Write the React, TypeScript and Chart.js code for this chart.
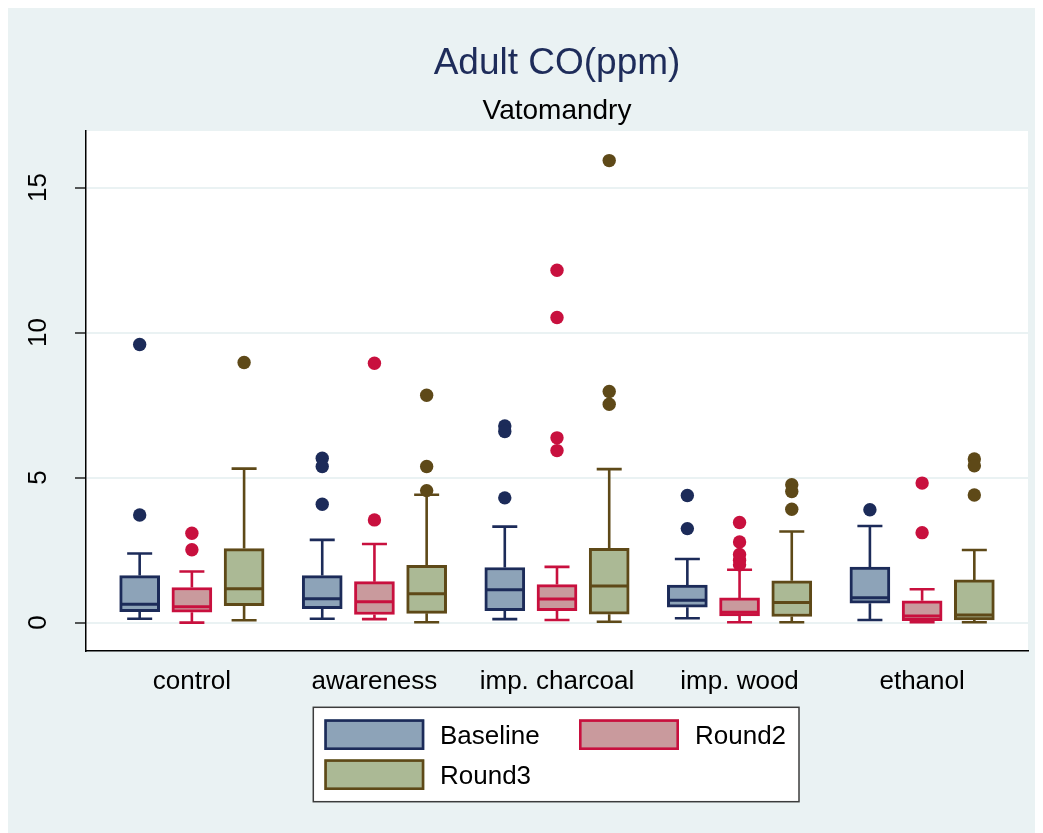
import React, { useEffect, useRef } from 'react';
import { Chart, registerables } from 'chart.js';

Chart.register(...registerables);

// ---------- data ----------
const categories = ['control', 'awareness', 'imp. charcoal', 'imp. wood', 'ethanol'];
const seriesNames = ['Baseline', 'Round2', 'Round3'];
const yTickValues = [0, 5, 10, 15];

const baselineLower = [0.13, 0.13, 0.12, 0.15, 0.09];
const baselineQ1 = [0.38, 0.48, 0.41, 0.53, 0.67];
const baselineMedian = [0.63, 0.82, 1.13, 0.77, 0.86];
const baselineQ3 = [1.62, 1.62, 1.9, 1.29, 1.91];
const baselineUpper = [2.38, 2.85, 3.31, 2.19, 3.33];
const baselineOutliers = [[9.59, 3.71], [5.67, 5.38, 4.08], [6.78, 6.59, 4.3], [4.38, 3.24], [3.89]];

const round2Lower = [0.0, 0.12, 0.09, 0.01, 0.01];
const round2Q1 = [0.36, 0.28, 0.41, 0.23, 0.07];
const round2Median = [0.55, 0.72, 0.81, 0.36, 0.23];
const round2Q3 = [1.21, 1.41, 1.31, 0.85, 0.75];
const round2Upper = [1.76, 2.71, 1.92, 1.82, 1.15];
const round2Outliers = [[3.08, 2.51], [8.94, 3.54], [12.15, 10.52, 6.37, 5.93], [3.45, 2.78, 2.35, 2.15, 1.99], [4.81, 3.1]];

const round3Lower = [0.08, 0.01, 0.03, 0.01, 0.01];
const round3Q1 = [0.58, 0.32, 0.29, 0.21, 0.09];
const round3Median = [1.17, 0.99, 1.26, 0.69, 0.26];
const round3Q3 = [2.55, 1.97, 2.56, 1.44, 1.47];
const round3Upper = [5.31, 4.41, 5.29, 3.14, 2.5];
const round3Outliers = [[8.97], [7.84, 5.38, 4.55], [15.93, 7.97, 7.53], [4.75, 4.52, 3.91], [5.64, 5.41, 4.4]];

// ---------- styles ----------
const FONT = "'Liberation Sans', Arial, Helvetica, sans-serif";
const BG = '#EAF2F3';
const GROUP_OFFSETS = [-0.286, 0, 0.286];
const FILLS = ['#8DA3B8', '#C99A9D', '#ABB995'];
const LINES = ['#1C2B59', '#C8103E', '#5E4918'];

const series = [
  { lower: baselineLower, q1: baselineQ1, median: baselineMedian, q3: baselineQ3, upper: baselineUpper, outliers: baselineOutliers },
  { lower: round2Lower, q1: round2Q1, median: round2Median, q3: round2Q3, upper: round2Upper, outliers: round2Outliers },
  { lower: round3Lower, q1: round3Q1, median: round3Median, q3: round3Q3, upper: round3Upper, outliers: round3Outliers },
];

const BOX_W = 40;
const CAP_W = 25;

const boxPlugin = {
  id: 'boxExtras',
  beforeDraw(chart: any) {
    const { ctx, chartArea: a } = chart;
    ctx.save();
    ctx.fillStyle = BG;
    ctx.fillRect(0, 0, chart.width, chart.height);
    ctx.fillStyle = '#FFFFFF';
    ctx.fillRect(a.left, a.top, a.right - a.left, a.bottom - a.top);
    ctx.restore();
  },
  beforeDatasetsDraw(chart: any) {
    const { ctx } = chart;
    const ys = chart.scales.y;
    ctx.save();
    ctx.lineWidth = 2.6;
    ctx.lineCap = 'butt';
    series.forEach((s, si) => {
      const meta = chart.getDatasetMeta(si);
      ctx.strokeStyle = LINES[si];
      categories.forEach((_, i) => {
        const bar = meta.data[i];
        if (!bar) return;
        const x = bar.x;
        const yq3 = ys.getPixelForValue(s.q3[i]);
        const yq1 = ys.getPixelForValue(s.q1[i]);
        const yu = ys.getPixelForValue(s.upper[i]);
        const yl = ys.getPixelForValue(s.lower[i]);
        ctx.beginPath();
        ctx.moveTo(x, yq3);
        ctx.lineTo(x, yu);
        ctx.moveTo(x - CAP_W / 2, yu);
        ctx.lineTo(x + CAP_W / 2, yu);
        ctx.moveTo(x, yq1);
        ctx.lineTo(x, yl);
        ctx.moveTo(x - CAP_W / 2, yl);
        ctx.lineTo(x + CAP_W / 2, yl);
        ctx.stroke();
      });
    });
    ctx.restore();
  },
  afterDatasetsDraw(chart: any) {
    const { ctx } = chart;
    const ys = chart.scales.y;
    ctx.save();
    ctx.lineWidth = 3;
    series.forEach((s, si) => {
      const meta = chart.getDatasetMeta(si);
      ctx.strokeStyle = LINES[si];
      categories.forEach((_, i) => {
        const bar = meta.data[i];
        if (!bar) return;
        const y = ys.getPixelForValue(s.median[i]);
        ctx.beginPath();
        ctx.moveTo(bar.x - BOX_W / 2 + 1.5, y);
        ctx.lineTo(bar.x + BOX_W / 2 - 1.5, y);
        ctx.stroke();
      });
    });
    ctx.restore();
  },
  afterDraw(chart: any) {
    // legend box
    const { ctx } = chart;
    ctx.save();
    const bx = 305.3, by = 699.3, bw = 485.7, bh = 94.4;
    ctx.fillStyle = '#FFFFFF';
    ctx.fillRect(bx, by, bw, bh);
    ctx.strokeStyle = '#3C3C3C';
    ctx.lineWidth = 1.5;
    ctx.strokeRect(bx, by, bw, bh);
    const items = [
      { sx: 316.3, sy: 711.3, tx: 432, ty: 729 },
      { sx: 571, sy: 711.3, tx: 687, ty: 729 },
      { sx: 316.3, sy: 751.3, tx: 432, ty: 769 },
    ];
    items.forEach((it, i) => {
      ctx.fillStyle = FILLS[i];
      ctx.fillRect(it.sx, it.sy, 100, 30.7);
      ctx.strokeStyle = LINES[i];
      ctx.lineWidth = 2.6;
      ctx.strokeRect(it.sx + 1.3, it.sy + 1.3, 100 - 2.6, 30.7 - 2.6);
      ctx.fillStyle = '#000000';
      ctx.font = `26px ${FONT}`;
      ctx.textBaseline = 'middle';
      ctx.textAlign = 'left';
      ctx.fillText(seriesNames[i], it.tx, it.ty);
    });
    ctx.restore();
  },
};

export default function App() {
  const ref = useRef<HTMLCanvasElement | null>(null);

  useEffect(() => {
    document.documentElement.style.overflow = 'hidden';
    const canvas = ref.current;
    if (!canvas) return;

    const barSets = series.map((s, si) => ({
      type: 'bar' as const,
      label: seriesNames[si],
      data: categories.map((_, i) => ({ x: i + 1 + GROUP_OFFSETS[si], y: [s.q1[i], s.q3[i]] })),
      backgroundColor: FILLS[si],
      borderColor: LINES[si],
      borderWidth: 3,
      borderSkipped: false,
      barThickness: BOX_W,
      grouped: false,
    }));

    const pointSets = series.map((s, si) => ({
      type: 'scatter' as const,
      label: seriesNames[si] + ' outliers',
      data: s.outliers.flatMap((vals, i) => vals.map((v) => ({ x: i + 1 + GROUP_OFFSETS[si], y: v }))),
      backgroundColor: LINES[si],
      borderColor: LINES[si],
      borderWidth: 0,
      pointRadius: 6.7,
      pointHoverRadius: 6.7,
    }));

    const chart = new Chart(canvas, {
      type: 'bar',
      data: { datasets: [...barSets, ...pointSets] as any },
      options: {
        responsive: false,
        animation: false,
        events: [],
        layout: { padding: { left: 0, right: 7, top: 0, bottom: 122 } },
        plugins: {
          legend: { display: false },
          tooltip: { enabled: false },
          title: {
            display: true,
            fullSize: false,
            text: 'Adult CO(ppm)',
            color: '#1E2C5A',
            font: { family: FONT, size: 37, weight: 'normal' as any },
            padding: { top: 33.8, bottom: 0 },
          },
          subtitle: {
            display: true,
            fullSize: false,
            text: 'Vatomandry',
            color: '#000000',
            font: { family: FONT, size: 28, weight: 'normal' as any },
            padding: { top: 8.5, bottom: 2.7 },
          },
        },
        scales: {
          x: {
            type: 'linear',
            min: 0.42,
            max: 5.58,
            offset: false,
            grid: { display: false, drawTicks: false },
            border: { display: true, color: '#000000', width: 1.5 },
            afterBuildTicks: (scale: any) => {
              scale.ticks = categories.map((_, i) => ({ value: i + 1 }));
            },
            afterFit: (scale: any) => {
              scale.height = 60;
            },
            ticks: {
              autoSkip: false,
              maxRotation: 0,
              minRotation: 0,
              padding: 15,
              color: '#000000',
              font: { family: FONT, size: 26 },
              callback: (v: any) => categories[Math.round(Number(v)) - 1] ?? '',
            },
          },
          y: {
            type: 'linear',
            min: -0.98,
            max: 16.95,
            afterBuildTicks: (scale: any) => {
              scale.ticks = yTickValues.map((v) => ({ value: v }));
            },
            afterFit: (scale: any) => {
              scale.width = 78;
            },
            grid: {
              color: BG,
              lineWidth: 2,
              drawTicks: true,
              tickLength: 11,
              tickColor: '#000000',
              tickWidth: 1.3,
            },
            border: { display: true, color: '#000000', width: 1.5 },
            ticks: {
              minRotation: 90,
              maxRotation: 90,
              crossAlign: 'center',
              padding: 22,
              color: '#000000',
              font: { family: FONT, size: 26 },
              callback: (v: any) => String(v),
            },
          },
        },
      } as any,
      plugins: [boxPlugin],
    });

    return () => chart.destroy();
  }, []);

  return (
    <div style={{ width: 1027, height: 825, background: BG }}>
      <canvas ref={ref} width={1027} height={825} style={{ display: 'block' }} />
    </div>
  );
}
